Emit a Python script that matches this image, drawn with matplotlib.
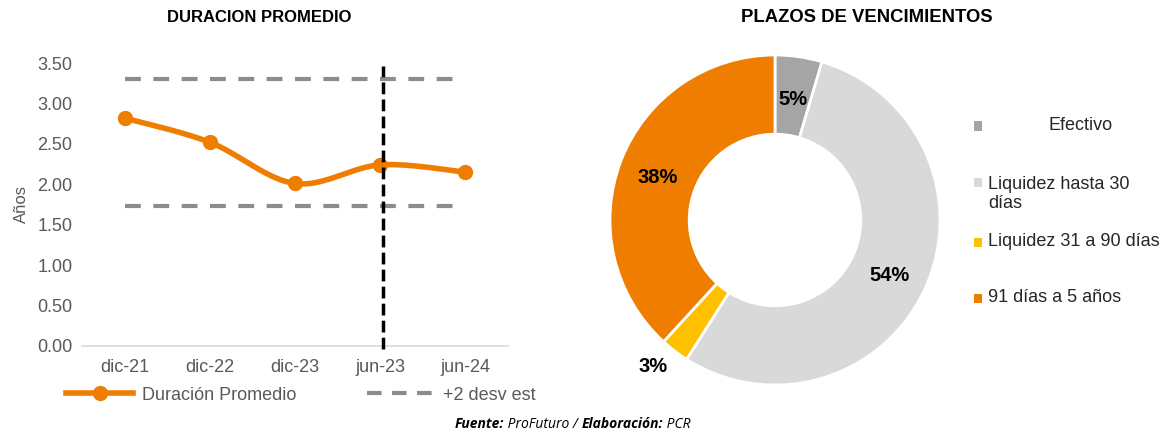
import numpy as np
import matplotlib
matplotlib.use('Agg')
import matplotlib.pyplot as plt
from matplotlib.lines import Line2D
from matplotlib.patches import Rectangle

plt.rcParams['font.family'] = ['Liberation Sans', 'DejaVu Sans']

# datos
periodos = ['dic-21', 'dic-22', 'dic-23', 'jun-23', 'jun-24']
duracion = [2.82, 2.52, 2.01, 2.24, 2.15]
limite_sup = 3.30
limite_inf = 1.73
corte = 'jun-23'
yticks = [0.0, 0.5, 1.0, 1.5, 2.0, 2.5, 3.0, 3.5]

plazos = ['Efectivo', 'Liquidez hasta 30\ndías', 'Liquidez 31 a 90 días', '91 días a 5 años']
participacion = [4.6, 54.4, 2.8, 38.2]
colores = ['#A5A5A5', '#D9D9D9', '#FFC000', '#EE7D00']

NARANJA = '#EE7D00'
GRIS = '#8C8C8C'
TEXTO = '#595959'
W, H = 1172, 433


def suavizar(xs, ys, n=40):
    # curva tipo catmull-rom, parecida al "suavizado" de excel
    pts = np.column_stack([xs, ys]).astype(float)
    pts = np.vstack([pts[0], pts, pts[-1]])
    t = np.linspace(0, 1, n)[:, None]
    out = []
    for i in range(1, len(pts) - 2):
        p0, p1, p2, p3 = pts[i - 1:i + 3]
        seg = 0.5 * (2 * p1 + (-p0 + p2) * t
                     + (2 * p0 - 5 * p1 + 4 * p2 - p3) * t ** 2
                     + (-p0 + 3 * p1 - 3 * p2 + p3) * t ** 3)
        out.append(seg)
    c = np.vstack(out)
    return c[:, 0], c[:, 1]


fig = plt.figure(figsize=(W / 100, H / 100), dpi=100)

# ---- duracion promedio ----
ax1 = fig.add_axes([82 / W, 1 - 346 / H, 426 / W, 283 / H])
x = np.arange(len(periodos))

for i in range(len(periodos) - 1):
    for lim in (limite_sup, limite_inf):
        ax1.plot([x[i], x[i + 1]], [lim, lim], color=GRIS, lw=3,
                 dashes=(3.8, 3.0), solid_capstyle='butt')

xs, ys = suavizar(x, duracion)
ax1.plot(xs, ys, color=NARANJA, lw=4, solid_capstyle='round', zorder=3)
ax1.plot(x, duracion, 'o', color=NARANJA, ms=10, zorder=4)

ax1.axvline(periodos.index(corte) + 0.03, ymin=-0.01, ymax=3.46 / 3.5, color='black',
            lw=2.5, dashes=(3.4, 1.5), zorder=5, clip_on=False)

ax1.set_xlim(-0.5, len(periodos) - 0.5)
ax1.set_ylim(0, 3.5)
ax1.set_xticks(x)
ax1.set_xticklabels(periodos)
ax1.set_yticks(yticks)
ax1.set_yticklabels([f'{v:.2f}' for v in yticks])
ax1.tick_params(length=0, labelsize=13, labelcolor=TEXTO)
ax1.tick_params(axis='y', pad=7)
ax1.tick_params(axis='x', pad=9)
for s in ('top', 'right', 'left'):
    ax1.spines[s].set_visible(False)
ax1.spines['bottom'].set_color('#D9D9D9')
ax1.spines['bottom'].set_linewidth(1.2)
ax1.set_ylabel('Años', fontsize=12, color=TEXTO)
ax1.yaxis.set_label_coords((29 - 82) / 426, 0.5)

fig.text(259 / W, 1 - 17 / H, 'DURACION PROMEDIO', ha='center', va='center',
         fontsize=12, fontweight='bold')

handles = [Line2D([], [], color=NARANJA, lw=4, marker='o', ms=10),
           Line2D([], [], color=GRIS, lw=3, dashes=(3.5, 2.5))]
fig.legend(handles, ['Duración Promedio', '+2 desv est'], loc='center',
           bbox_to_anchor=(301 / W, 1 - 395 / H), ncol=2, frameon=False,
           fontsize=13, handlelength=3.7, handletextpad=0.5, columnspacing=3.9,
           labelcolor=TEXTO)

# ---- plazos de vencimiento ----
cx, cy, r = 775, 220, 165
ax2 = fig.add_axes([(cx - r) / W, 1 - (cy + r) / H, 2 * r / W, 2 * r / H])
wedges, _ = ax2.pie(participacion, colors=colores, startangle=90,
                    counterclock=False, radius=1,
                    wedgeprops=dict(width=0.48, edgecolor='white', linewidth=2))
ax2.set_xlim(-1, 1)
ax2.set_ylim(-1, 1)

for w, v in zip(wedges, participacion):
    ang = np.deg2rad((w.theta1 + w.theta2) / 2)
    if v > 4:
        rr = 0.76
    else:
        rr = 1.14
        ang -= np.deg2rad(3)
    ax2.text(rr * np.cos(ang), rr * np.sin(ang) - 0.02, f'{v:.0f}%', ha='center',
             va='center', fontsize=14.5, fontweight='bold', clip_on=False)

fig.text(867 / W, 1 - 17 / H, 'PLAZOS DE VENCIMIENTOS', ha='center', va='center',
         fontsize=13.3, fontweight='bold')

ley_y = [126, 194, 242, 298]
mk_y = [126, 183, 242, 298]
for nombre, col, ty, my in zip(plazos, colores, ley_y, mk_y):
    fig.add_artist(Rectangle(((978 - 4.5) / W, 1 - (my + 4.5) / H), 9 / W, 9 / H,
                             facecolor=col, edgecolor='none'))
    if nombre == 'Efectivo':
        fig.text(1081 / W, 1 - ty / H, nombre, ha='center', va='center',
                 fontsize=13, color='#262626')
    else:
        fig.text(988 / W, 1 - ty / H, nombre, ha='left', va='center',
                 fontsize=13, color='#262626', linespacing=1.2)

# ---- fuente ----
partes = [('Fuente:', 'bold'), (' ProFuturo / ', 'normal'),
          ('Elaboración:', 'bold'), (' PCR', 'normal')]
rend = fig.canvas.get_renderer()
textos = []
for txt, peso in partes:
    t = fig.text(0, 1 - 424 / H, txt, ha='left', va='center', fontsize=10,
                 style='italic', fontweight=peso, family=['Open Sans', 'DejaVu Sans'])
    textos.append(t)
total = sum(t.get_window_extent(rend).width for t in textos)
xpos = 573 - total / 2
for t in textos:
    t.set_x(xpos / W)
    xpos += t.get_window_extent(rend).width

fig.savefig('out.png', dpi=100)
